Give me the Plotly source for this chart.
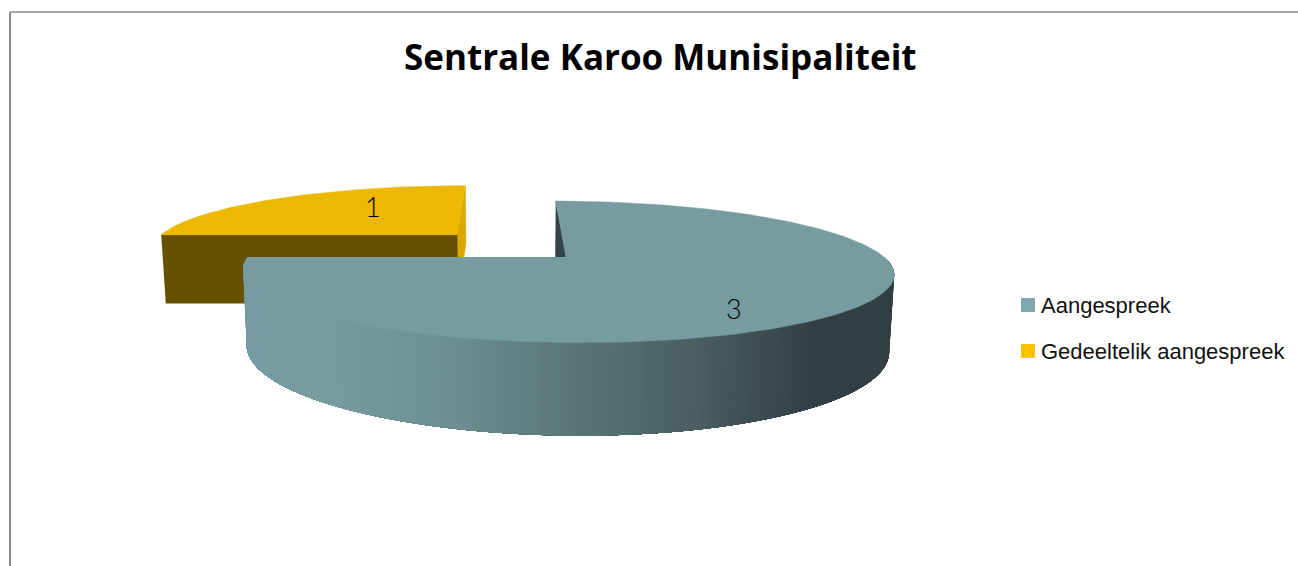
import numpy as np
import plotly.graph_objects as go

TITLE = "Sentrale Karoo Munisipaliteit"
categories = ["Aangespreek", "Gedeeltelik aangespreek"]
values = [3, 1]
legend_colors = ["#7FA7AE", "#FFC000"]
top_colors = ["#769BA1", "#ECB800"]
front_color_yellow = "#665000"
side_color_yellow = "#DAA800"
inner_wall_color = "#324349"
explode = [0.0, 0.5]

# perspective camera of the tilted pie, in picture pixels
VX, VY = 507, -65
X0, A = 59, 318
H_TOP, H_BOT = 322, 395.5
K = 0.21
BOT_SCALE = 0.987

grad_x = [250, 330, 450, 580, 700, 820, 895]
grad_rgb = np.array([[118, 155, 161], [118, 155, 161], [110, 144, 148], [90, 117, 119],
                     [74, 95, 98], [50, 63, 67], [51, 64, 69]])


def project(X, Y, bottom=False):
    X, Y = np.asarray(X, float), np.asarray(Y, float)
    f = 1 / (1 + K * Y)
    if bottom:
        return VX + (X0 + A * X) * f * BOT_SCALE, VY + H_BOT * f
    return VX + (X0 + A * X) * f, VY + H_TOP * f


def wall_color(x):
    c = [np.interp(x, grad_x, grad_rgb[:, i]) for i in range(3)]
    return "rgb(%d,%d,%d)" % tuple(c)


def poly(xs, ys, color, width=0.5):
    return go.Scatter(x=list(xs), y=list(ys), mode="lines", fill="toself", fillcolor=color,
                      line=dict(color=color, width=width), hoverinfo="skip", showlegend=False)


fig = go.Figure()
total = sum(values)
starts = [90 - 360 * sum(values[:i]) / total for i in range(len(values))]
ends = [90 - 360 * sum(values[:i + 1]) / total for i in range(len(values))]

# --- exploded yellow slice (second value) ---
s, e = np.radians(starts[1]), np.radians(ends[1])
mid = (s + e) / 2
ox, oy = explode[1] * np.cos(mid), explode[1] * np.sin(mid)
t = np.linspace(s, e, 80)
ax, ay = np.cos(t) + ox, np.sin(t) + oy
p1 = project([ox, ox], [oy, oy + 1])
p2 = project([ox, ox], [oy + 1, oy], bottom=True)
fig.add_trace(poly(np.r_[p1[0], p2[0]], np.r_[p1[1], p2[1]], side_color_yellow))
p1 = project([ox - 1, ox], [oy, oy])
p2 = project([ox, ox - 1], [oy, oy], bottom=True)
fig.add_trace(poly(np.r_[p1[0], p2[0]], np.r_[p1[1], p2[1]], front_color_yellow))
tx, ty = project(np.r_[ox, ax], np.r_[oy, ay])
fig.add_trace(poly(tx, ty, top_colors[1]))

# --- teal slice (first value) ---
s, e = np.radians(starts[0]), np.radians(ends[0])
p1 = project([0, 0], [1, 0])
p2 = project([0, 0], [0, 1], bottom=True)
fig.add_trace(poly(np.r_[p1[0], p2[0]], np.r_[p1[1], p2[1]], inner_wall_color))
# outer wall: overlapping strips painted from right to left so no seams show
edges = np.radians(np.arange(0, -181, -1.0))
for a in edges[:-1]:
    arc = np.linspace(a, -np.pi, 40)
    tp = project(np.cos(arc), np.sin(arc))
    bt = project(np.cos(arc[::-1]), np.sin(arc[::-1]), bottom=True)
    fig.add_trace(go.Scatter(x=list(np.r_[tp[0], bt[0]]), y=list(np.r_[tp[1], bt[1]]),
                             mode="lines", fill="toself", line=dict(width=0),
                             fillcolor=wall_color(project(np.cos(a), np.sin(a))[0]),
                             hoverinfo="skip", showlegend=False))
t = np.linspace(s, e, 240)
tx, ty = project(np.r_[0, np.cos(t)], np.r_[0, np.sin(t)])
fig.add_trace(poly(tx, ty, top_colors[0]))

# --- legend keys ---
key_x = 1028
key_y = [305, 351]
for name, col, y in zip(categories, legend_colors, key_y):
    fig.add_trace(go.Scatter(x=[key_x], y=[y], mode="markers", name=name, showlegend=False,
                             hoverinfo="name",
                             marker=dict(symbol="square", size=14, color=col)))

legend_notes = [dict(x=1039, y=y, xref="x", yref="y", text=name, showarrow=False, xanchor="left",
                     font=dict(family="Liberation Sans", size=22, color="#111111"))
                for name, y in zip(categories, key_y)]

fig.update_layout(
    width=1298, height=566, autosize=False,
    margin=dict(l=0, r=0, t=0, b=0),
    paper_bgcolor="white", plot_bgcolor="white",
    xaxis=dict(range=[0, 1298], visible=False, fixedrange=True),
    yaxis=dict(range=[566, 0], visible=False, fixedrange=True),
    showlegend=False,
    annotations=legend_notes + [
        dict(x=660, y=56, xref="x", yref="y", text="<b>%s</b>" % TITLE, showarrow=False,
             font=dict(family="Open Sans", size=35, color="black")),
        dict(x=734, y=308, xref="x", yref="y", text=str(values[0]), showarrow=False,
             font=dict(family="Lato", size=27, weight=300, color="black")),
        dict(x=373, y=206, xref="x", yref="y", text=str(values[1]), showarrow=False,
             font=dict(family="Lato", size=27, weight=300, color="black")),
    ],
    shapes=[
        dict(type="line", x0=10, x1=1298, y0=12, y1=12, xref="x", yref="y",
             line=dict(color="#8A8A8A", width=1.5)),
        dict(type="line", x0=10, x1=10, y0=12, y1=566, xref="x", yref="y",
             line=dict(color="#8A8A8A", width=2)),
    ],
)
fig.write_html("out.html", config=dict(displayModeBar=False),
               post_script="document.body.style.margin='0';")
